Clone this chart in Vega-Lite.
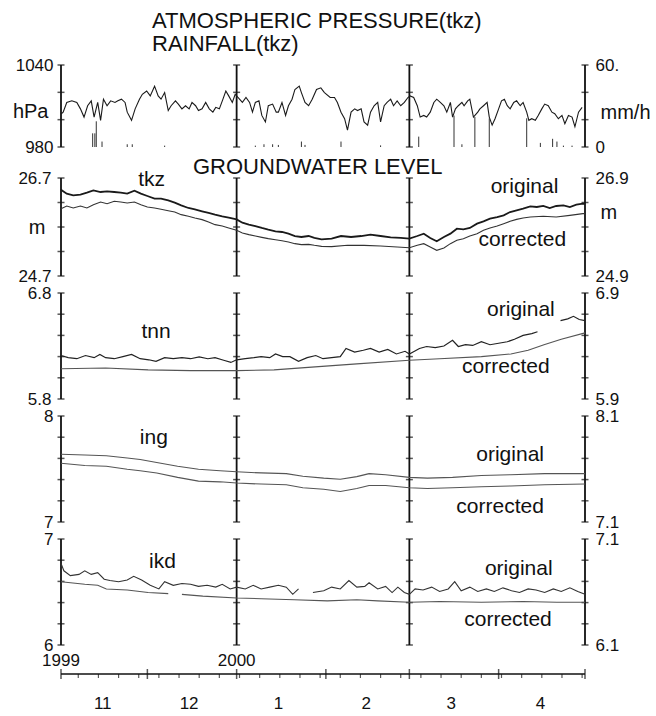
{
"$schema": "https://vega.github.io/schema/vega-lite/v6.json",
"background": "white",
"padding": {"left": 12, "top": 10, "right": 4, "bottom": 0},
"spacing": 0,
"config": {
  "view": {"stroke": null},
  "font": "Liberation Sans",
  "axis": {"labelFont": "Liberation Sans", "labelFontSize": 17, "labelColor": "#111", "grid": false, "labelFlush": false, "labelOverlap": false, "labelBound": false},
  "title": {"font": "Liberation Sans", "fontSize": 22, "fontWeight": "normal", "color": "#111", "anchor": "start", "frame": "group"},
  "text": {"font": "Liberation Sans"}
},
"datasets": {
  "frame": [
    {"site":"pres","date":"1999-11-01T00:00","level":980},{"site":"pres","date":"1999-11-01T00:00","level":1000},{"site":"pres","date":"1999-11-01T00:00","level":1020},{"site":"pres","date":"1999-11-01T00:00","level":1040},
    {"site":"pres","date":"2000-01-01T00:00","level":980},{"site":"pres","date":"2000-01-01T00:00","level":1000},{"site":"pres","date":"2000-01-01T00:00","level":1020},{"site":"pres","date":"2000-01-01T00:00","level":1040},
    {"site":"pres","date":"2000-03-01T00:00","level":980},{"site":"pres","date":"2000-03-01T00:00","level":1000},{"site":"pres","date":"2000-03-01T00:00","level":1020},{"site":"pres","date":"2000-03-01T00:00","level":1040},
    {"site":"pres","date":"2000-05-01T00:00","level":980},{"site":"pres","date":"2000-05-01T00:00","level":1000},{"site":"pres","date":"2000-05-01T00:00","level":1020},{"site":"pres","date":"2000-05-01T00:00","level":1040},
    {"site":"tkz","date":"1999-11-01T00:00","level":24.7},{"site":"tkz","date":"1999-11-01T00:00","level":25.2},{"site":"tkz","date":"1999-11-01T00:00","level":25.7},{"site":"tkz","date":"1999-11-01T00:00","level":26.2},{"site":"tkz","date":"1999-11-01T00:00","level":26.7},
    {"site":"tkz","date":"2000-01-01T00:00","level":24.7},{"site":"tkz","date":"2000-01-01T00:00","level":25.2},{"site":"tkz","date":"2000-01-01T00:00","level":25.7},{"site":"tkz","date":"2000-01-01T00:00","level":26.2},{"site":"tkz","date":"2000-01-01T00:00","level":26.7},
    {"site":"tkz","date":"2000-03-01T00:00","level":24.7},{"site":"tkz","date":"2000-03-01T00:00","level":25.2},{"site":"tkz","date":"2000-03-01T00:00","level":25.7},{"site":"tkz","date":"2000-03-01T00:00","level":26.2},{"site":"tkz","date":"2000-03-01T00:00","level":26.7},
    {"site":"tkz","date":"2000-05-01T00:00","level":24.7},{"site":"tkz","date":"2000-05-01T00:00","level":25.2},{"site":"tkz","date":"2000-05-01T00:00","level":25.7},{"site":"tkz","date":"2000-05-01T00:00","level":26.2},{"site":"tkz","date":"2000-05-01T00:00","level":26.7},
    {"site":"tnn","date":"1999-11-01T00:00","level":5.8},{"site":"tnn","date":"1999-11-01T00:00","level":6.0},{"site":"tnn","date":"1999-11-01T00:00","level":6.2},{"site":"tnn","date":"1999-11-01T00:00","level":6.4},{"site":"tnn","date":"1999-11-01T00:00","level":6.6},{"site":"tnn","date":"1999-11-01T00:00","level":6.8},
    {"site":"tnn","date":"2000-01-01T00:00","level":5.8},{"site":"tnn","date":"2000-01-01T00:00","level":6.0},{"site":"tnn","date":"2000-01-01T00:00","level":6.2},{"site":"tnn","date":"2000-01-01T00:00","level":6.4},{"site":"tnn","date":"2000-01-01T00:00","level":6.6},{"site":"tnn","date":"2000-01-01T00:00","level":6.8},
    {"site":"tnn","date":"2000-03-01T00:00","level":5.8},{"site":"tnn","date":"2000-03-01T00:00","level":6.0},{"site":"tnn","date":"2000-03-01T00:00","level":6.2},{"site":"tnn","date":"2000-03-01T00:00","level":6.4},{"site":"tnn","date":"2000-03-01T00:00","level":6.6},{"site":"tnn","date":"2000-03-01T00:00","level":6.8},
    {"site":"tnn","date":"2000-05-01T00:00","level":5.8},{"site":"tnn","date":"2000-05-01T00:00","level":6.0},{"site":"tnn","date":"2000-05-01T00:00","level":6.2},{"site":"tnn","date":"2000-05-01T00:00","level":6.4},{"site":"tnn","date":"2000-05-01T00:00","level":6.6},{"site":"tnn","date":"2000-05-01T00:00","level":6.8},
    {"site":"ing","date":"1999-11-01T00:00","level":7.0},{"site":"ing","date":"1999-11-01T00:00","level":7.2},{"site":"ing","date":"1999-11-01T00:00","level":7.4},{"site":"ing","date":"1999-11-01T00:00","level":7.6},{"site":"ing","date":"1999-11-01T00:00","level":7.8},{"site":"ing","date":"1999-11-01T00:00","level":8.0},
    {"site":"ing","date":"2000-01-01T00:00","level":7.0},{"site":"ing","date":"2000-01-01T00:00","level":7.2},{"site":"ing","date":"2000-01-01T00:00","level":7.4},{"site":"ing","date":"2000-01-01T00:00","level":7.6},{"site":"ing","date":"2000-01-01T00:00","level":7.8},{"site":"ing","date":"2000-01-01T00:00","level":8.0},
    {"site":"ing","date":"2000-03-01T00:00","level":7.0},{"site":"ing","date":"2000-03-01T00:00","level":7.2},{"site":"ing","date":"2000-03-01T00:00","level":7.4},{"site":"ing","date":"2000-03-01T00:00","level":7.6},{"site":"ing","date":"2000-03-01T00:00","level":7.8},{"site":"ing","date":"2000-03-01T00:00","level":8.0},
    {"site":"ing","date":"2000-05-01T00:00","level":7.0},{"site":"ing","date":"2000-05-01T00:00","level":7.2},{"site":"ing","date":"2000-05-01T00:00","level":7.4},{"site":"ing","date":"2000-05-01T00:00","level":7.6},{"site":"ing","date":"2000-05-01T00:00","level":7.8},{"site":"ing","date":"2000-05-01T00:00","level":8.0},
    {"site":"ikd","date":"1999-11-01T00:00","level":6.0},{"site":"ikd","date":"1999-11-01T00:00","level":6.2},{"site":"ikd","date":"1999-11-01T00:00","level":6.4},{"site":"ikd","date":"1999-11-01T00:00","level":6.6},{"site":"ikd","date":"1999-11-01T00:00","level":6.8},{"site":"ikd","date":"1999-11-01T00:00","level":7.0},
    {"site":"ikd","date":"2000-01-01T00:00","level":6.0},{"site":"ikd","date":"2000-01-01T00:00","level":6.2},{"site":"ikd","date":"2000-01-01T00:00","level":6.4},{"site":"ikd","date":"2000-01-01T00:00","level":6.6},{"site":"ikd","date":"2000-01-01T00:00","level":6.8},{"site":"ikd","date":"2000-01-01T00:00","level":7.0},
    {"site":"ikd","date":"2000-03-01T00:00","level":6.0},{"site":"ikd","date":"2000-03-01T00:00","level":6.2},{"site":"ikd","date":"2000-03-01T00:00","level":6.4},{"site":"ikd","date":"2000-03-01T00:00","level":6.6},{"site":"ikd","date":"2000-03-01T00:00","level":6.8},{"site":"ikd","date":"2000-03-01T00:00","level":7.0},
    {"site":"ikd","date":"2000-05-01T00:00","level":6.0},{"site":"ikd","date":"2000-05-01T00:00","level":6.2},{"site":"ikd","date":"2000-05-01T00:00","level":6.4},{"site":"ikd","date":"2000-05-01T00:00","level":6.6},{"site":"ikd","date":"2000-05-01T00:00","level":6.8},{"site":"ikd","date":"2000-05-01T00:00","level":7.0}
  ],
  "notes": [
    {"site":"tkz","date":"1999-12-02T12:00","level":26.66,"text":"tkz"},
    {"site":"tkz","date":"2000-04-10T00:00","level":26.52,"text":"original"},
    {"site":"tkz","date":"2000-04-09T06:00","level":25.43,"text":"corrected"},
    {"site":"tnn","date":"1999-12-04T00:00","level":6.434,"text":"tnn"},
    {"site":"tnn","date":"2000-04-08T18:00","level":6.643,"text":"original"},
    {"site":"tnn","date":"2000-04-03T12:00","level":6.103,"text":"corrected"},
    {"site":"ing","date":"1999-12-03T06:00","level":7.79,"text":"ing"},
    {"site":"ing","date":"2000-04-05T00:00","level":7.63,"text":"original"},
    {"site":"ing","date":"2000-04-01T12:00","level":7.14,"text":"corrected"},
    {"site":"ikd","date":"1999-12-06T06:00","level":6.785,"text":"ikd"},
    {"site":"ikd","date":"2000-04-08T00:00","level":6.717,"text":"original"},
    {"site":"ikd","date":"2000-04-04T06:00","level":6.24,"text":"corrected"}
  ],
  "weeks": [
    {"date":"1999-11-07T00:00"},{"date":"1999-11-14T00:00"},{"date":"1999-11-21T00:00"},{"date":"1999-11-28T00:00"},
    {"date":"1999-12-05T00:00"},{"date":"1999-12-12T00:00"},{"date":"1999-12-19T00:00"},{"date":"1999-12-26T00:00"},
    {"date":"2000-01-02T00:00"},{"date":"2000-01-09T00:00"},{"date":"2000-01-16T00:00"},{"date":"2000-01-23T00:00"},{"date":"2000-01-30T00:00"},
    {"date":"2000-02-06T00:00"},{"date":"2000-02-13T00:00"},{"date":"2000-02-20T00:00"},{"date":"2000-02-27T00:00"},
    {"date":"2000-03-05T00:00"},{"date":"2000-03-12T00:00"},{"date":"2000-03-19T00:00"},{"date":"2000-03-26T00:00"},
    {"date":"2000-04-02T00:00"},{"date":"2000-04-09T00:00"},{"date":"2000-04-16T00:00"},{"date":"2000-04-23T00:00"},{"date":"2000-04-30T00:00"}
  ],
  "month_starts": [
    {"date":"1999-11-01T00:00"},{"date":"1999-12-01T00:00"},{"date":"2000-01-01T00:00"},{"date":"2000-02-01T00:00"},{"date":"2000-03-01T00:00"},{"date":"2000-04-01T00:00"},{"date":"2000-05-01T00:00"}
  ],
  "month_labels": [
    {"date":"1999-11-15T12:00","month":"11"},{"date":"1999-12-15T12:00","month":"12"},{"date":"2000-01-15T12:00","month":"1"},
    {"date":"2000-02-15T00:00","month":"2"},{"date":"2000-03-15T12:00","month":"3"},{"date":"2000-04-15T12:00","month":"4"}
  ],
  "year_labels": [
    {"date":"1999-11-01T00:00","year":"1999"},{"date":"2000-01-01T00:00","year":"2000"}
  ],
  "pressure": [
    {"date":"1999-11-01T00:00","hPa":1004.0},{"date":"1999-11-01T18:00","hPa":1005.5},{"date":"1999-11-03T00:00","hPa":1012.6},{"date":"1999-11-04T18:00","hPa":1013.8},
    {"date":"1999-11-06T12:00","hPa":1012.6},{"date":"1999-11-07T18:00","hPa":1007.9},{"date":"1999-11-09T00:00","hPa":1001.9},{"date":"1999-11-10T06:00","hPa":1010.2},
    {"date":"1999-11-11T12:00","hPa":1013.8},{"date":"1999-11-12T12:00","hPa":1001.9},{"date":"1999-11-13T18:00","hPa":1012.6},{"date":"1999-11-14T18:00","hPa":999.5},
    {"date":"1999-11-15T18:00","hPa":1015.0},{"date":"1999-11-17T00:00","hPa":1010.2},{"date":"1999-11-18T06:00","hPa":1013.8},{"date":"1999-11-19T18:00","hPa":1012.6},
    {"date":"1999-11-20T18:00","hPa":1013.8},{"date":"1999-11-22T00:00","hPa":1015.0},{"date":"1999-11-23T06:00","hPa":1012.6},{"date":"1999-11-24T00:00","hPa":1005.5},
    {"date":"1999-11-25T12:00","hPa":999.5},{"date":"1999-11-26T18:00","hPa":1007.9},{"date":"1999-11-28T06:00","hPa":1015.0},{"date":"1999-11-29T06:00","hPa":1018.6},
    {"date":"1999-11-30T18:00","hPa":1021.0},{"date":"1999-12-02T00:00","hPa":1017.4},{"date":"1999-12-03T12:00","hPa":1024.5},{"date":"1999-12-04T18:00","hPa":1017.4},
    {"date":"1999-12-05T18:00","hPa":1015.0},{"date":"1999-12-07T00:00","hPa":1019.8},{"date":"1999-12-08T06:00","hPa":1006.7},{"date":"1999-12-09T06:00","hPa":1010.2},
    {"date":"1999-12-10T18:00","hPa":1013.8},{"date":"1999-12-11T18:00","hPa":1011.4},{"date":"1999-12-13T00:00","hPa":1007.9},{"date":"1999-12-14T06:00","hPa":1010.2},
    {"date":"1999-12-15T12:00","hPa":1007.9},{"date":"1999-12-16T12:00","hPa":1012.6},{"date":"1999-12-17T18:00","hPa":1010.2},{"date":"1999-12-18T18:00","hPa":1006.7},
    {"date":"1999-12-20T00:00","hPa":1007.9},{"date":"1999-12-21T06:00","hPa":1012.6},{"date":"1999-12-22T12:00","hPa":1007.9},{"date":"1999-12-23T18:00","hPa":1005.5},
    {"date":"1999-12-24T18:00","hPa":1009.0},{"date":"1999-12-26T00:00","hPa":1007.9},{"date":"1999-12-27T06:00","hPa":1015.0},{"date":"1999-12-28T06:00","hPa":1021.0},
    {"date":"1999-12-29T06:00","hPa":1017.4},{"date":"1999-12-30T12:00","hPa":1012.6},{"date":"1999-12-31T12:00","hPa":1018.6},{"date":"2000-01-02T00:00","hPa":1015.0},
    {"date":"2000-01-03T00:00","hPa":1012.6},{"date":"2000-01-04T06:00","hPa":1016.2},{"date":"2000-01-05T12:00","hPa":1012.6},{"date":"2000-01-06T12:00","hPa":1005.5},
    {"date":"2000-01-07T12:00","hPa":1012.6},{"date":"2000-01-08T18:00","hPa":1013.8},{"date":"2000-01-09T18:00","hPa":1003.1},{"date":"2000-01-11T00:00","hPa":998.3},
    {"date":"2000-01-12T00:00","hPa":1010.2},{"date":"2000-01-13T12:00","hPa":1011.4},{"date":"2000-01-14T18:00","hPa":1005.5},{"date":"2000-01-15T12:00","hPa":1005.5},
    {"date":"2000-01-16T18:00","hPa":1012.6},{"date":"2000-01-18T00:00","hPa":1003.1},{"date":"2000-01-19T00:00","hPa":1010.2},{"date":"2000-01-20T06:00","hPa":1015.0},
    {"date":"2000-01-21T06:00","hPa":1022.1},{"date":"2000-01-22T18:00","hPa":1024.5},{"date":"2000-01-23T12:00","hPa":1019.8},{"date":"2000-01-24T18:00","hPa":1012.6},
    {"date":"2000-01-26T00:00","hPa":1010.2},{"date":"2000-01-27T06:00","hPa":1015.0},{"date":"2000-01-28T18:00","hPa":1022.1},{"date":"2000-01-30T06:00","hPa":1023.3},
    {"date":"2000-01-31T12:00","hPa":1019.8},{"date":"2000-02-02T12:00","hPa":1016.2},{"date":"2000-02-04T00:00","hPa":1016.2},{"date":"2000-02-05T00:00","hPa":1012.6},
    {"date":"2000-02-06T06:00","hPa":1005.5},{"date":"2000-02-07T12:00","hPa":1000.7},{"date":"2000-02-08T12:00","hPa":992.4},{"date":"2000-02-09T18:00","hPa":1005.5},
    {"date":"2000-02-11T00:00","hPa":1007.9},{"date":"2000-02-12T00:00","hPa":1006.7},{"date":"2000-02-13T06:00","hPa":1007.9},{"date":"2000-02-14T06:00","hPa":998.3},
    {"date":"2000-02-15T12:00","hPa":996.0},{"date":"2000-02-16T12:00","hPa":1005.5},{"date":"2000-02-17T18:00","hPa":1010.2},{"date":"2000-02-19T00:00","hPa":1012.6},
    {"date":"2000-02-20T00:00","hPa":998.3},{"date":"2000-02-21T06:00","hPa":1010.2},{"date":"2000-02-22T06:00","hPa":1012.6},{"date":"2000-02-23T12:00","hPa":1015.0},
    {"date":"2000-02-24T12:00","hPa":1010.2},{"date":"2000-02-25T18:00","hPa":1013.8},{"date":"2000-02-27T00:00","hPa":1010.2},{"date":"2000-02-28T06:00","hPa":1012.6},
    {"date":"2000-02-29T12:00","hPa":1016.2},{"date":"2000-03-01T06:00","hPa":1017.4},{"date":"2000-03-02T12:00","hPa":1016.2},{"date":"2000-03-03T18:00","hPa":1010.2},
    {"date":"2000-03-04T18:00","hPa":1001.9},{"date":"2000-03-06T00:00","hPa":1003.1},{"date":"2000-03-07T00:00","hPa":1001.9},{"date":"2000-03-08T06:00","hPa":1005.5},
    {"date":"2000-03-09T12:00","hPa":1012.6},{"date":"2000-03-10T12:00","hPa":1015.0},{"date":"2000-03-11T18:00","hPa":1012.6},{"date":"2000-03-13T00:00","hPa":1010.2},
    {"date":"2000-03-14T00:00","hPa":1005.5},{"date":"2000-03-15T06:00","hPa":1012.6},{"date":"2000-03-16T00:00","hPa":1001.9},{"date":"2000-03-17T00:00","hPa":1007.9},
    {"date":"2000-03-18T00:00","hPa":1010.2},{"date":"2000-03-19T06:00","hPa":1012.6},{"date":"2000-03-20T00:00","hPa":1010.2},{"date":"2000-03-21T06:00","hPa":1013.8},
    {"date":"2000-03-22T00:00","hPa":1015.0},{"date":"2000-03-23T06:00","hPa":1001.9},{"date":"2000-03-24T18:00","hPa":1005.5},{"date":"2000-03-25T12:00","hPa":1007.9},
    {"date":"2000-03-26T18:00","hPa":1010.2},{"date":"2000-03-28T00:00","hPa":1012.6},{"date":"2000-03-28T18:00","hPa":1001.9},{"date":"2000-03-29T18:00","hPa":996.0},
    {"date":"2000-03-30T18:00","hPa":1000.7},{"date":"2000-04-01T00:00","hPa":1007.9},{"date":"2000-04-02T00:00","hPa":1013.8},{"date":"2000-04-03T00:00","hPa":1015.0},
    {"date":"2000-04-04T00:00","hPa":1010.2},{"date":"2000-04-05T00:00","hPa":1007.9},{"date":"2000-04-06T06:00","hPa":1012.6},{"date":"2000-04-07T06:00","hPa":1013.8},
    {"date":"2000-04-08T12:00","hPa":1010.2},{"date":"2000-04-09T12:00","hPa":1012.6},{"date":"2000-04-10T18:00","hPa":1005.5},{"date":"2000-04-11T12:00","hPa":999.5},
    {"date":"2000-04-12T12:00","hPa":1000.7},{"date":"2000-04-13T18:00","hPa":999.5},{"date":"2000-04-14T18:00","hPa":1003.1},{"date":"2000-04-16T00:00","hPa":1007.9},
    {"date":"2000-04-17T00:00","hPa":1011.4},{"date":"2000-04-18T06:00","hPa":1010.2},{"date":"2000-04-19T12:00","hPa":1005.5},{"date":"2000-04-20T12:00","hPa":1004.3},
    {"date":"2000-04-21T18:00","hPa":1000.7},{"date":"2000-04-23T00:00","hPa":1003.1},{"date":"2000-04-24T00:00","hPa":997.1},{"date":"2000-04-25T06:00","hPa":1003.1},
    {"date":"2000-04-26T12:00","hPa":1001.9},{"date":"2000-04-27T12:00","hPa":994.8},{"date":"2000-04-28T18:00","hPa":1005.5},{"date":"2000-04-30T00:00","hPa":1009.0}
  ],
  "rain": [
    {"date":"1999-11-12T00:00","mm":10},{"date":"1999-11-12T18:00","mm":10},{"date":"1999-11-13T06:00","mm":18.8},{"date":"1999-11-15T06:00","mm":4},
    {"date":"1999-11-24T00:00","mm":2},{"date":"1999-11-25T18:00","mm":2},{"date":"1999-12-07T00:00","mm":1},{"date":"2000-01-07T12:00","mm":1},
    {"date":"2000-01-10T12:00","mm":2},{"date":"2000-01-13T12:00","mm":2},{"date":"2000-01-15T12:00","mm":1.5},{"date":"2000-01-23T12:00","mm":4},
    {"date":"2000-01-24T18:00","mm":1.5},{"date":"2000-02-06T06:00","mm":4},{"date":"2000-02-20T00:00","mm":1.2},{"date":"2000-03-04T06:00","mm":7.6},
    {"date":"2000-03-16T12:00","mm":23},{"date":"2000-03-19T06:00","mm":2},{"date":"2000-03-23T18:00","mm":22},{"date":"2000-03-28T18:00","mm":21},
    {"date":"2000-04-10T18:00","mm":21},{"date":"2000-04-15T12:00","mm":3},{"date":"2000-04-19T18:00","mm":6},{"date":"2000-04-21T06:00","mm":4},
    {"date":"2000-04-23T12:00","mm":1},{"date":"2000-04-26T12:00","mm":1}
  ],
  "tkz_original": [
    {"date":"1999-11-01T00:00","level":26.469},{"date":"1999-11-01T06:00","level":26.448},{"date":"1999-11-03T00:00","level":26.38},{"date":"1999-11-05T06:00","level":26.346},
    {"date":"1999-11-07T18:00","level":26.36},{"date":"1999-11-10T00:00","level":26.40},{"date":"1999-11-12T06:00","level":26.448},{"date":"1999-11-14T18:00","level":26.414},
    {"date":"1999-11-17T00:00","level":26.428},{"date":"1999-11-19T12:00","level":26.414},{"date":"1999-11-21T18:00","level":26.40},{"date":"1999-11-24T00:00","level":26.38},
    {"date":"1999-11-26T12:00","level":26.442},{"date":"1999-11-28T18:00","level":26.38},{"date":"1999-12-01T00:00","level":26.333},{"date":"1999-12-03T12:00","level":26.278},
    {"date":"1999-12-05T18:00","level":26.278},{"date":"1999-12-08T06:00","level":26.244},{"date":"1999-12-10T12:00","level":26.197},{"date":"1999-12-12T18:00","level":26.142},
    {"date":"1999-12-15T06:00","level":26.088},{"date":"1999-12-17T12:00","level":26.061},{"date":"1999-12-20T00:00","level":26.02},{"date":"1999-12-22T06:00","level":25.986},
    {"date":"1999-12-24T12:00","level":25.952},{"date":"1999-12-27T00:00","level":25.918},{"date":"1999-12-29T06:00","level":25.891},{"date":"2000-01-01T00:00","level":25.856},
    {"date":"2000-01-03T00:00","level":25.788},{"date":"2000-01-05T06:00","level":25.748},{"date":"2000-01-07T12:00","level":25.72},{"date":"2000-01-09T18:00","level":25.68},
    {"date":"2000-01-12T00:00","level":25.646},{"date":"2000-01-14T12:00","level":25.612},{"date":"2000-01-16T18:00","level":25.598},{"date":"2000-01-19T00:00","level":25.564},
    {"date":"2000-01-21T06:00","level":25.516},{"date":"2000-01-23T12:00","level":25.496},{"date":"2000-01-26T00:00","level":25.516},{"date":"2000-01-28T00:00","level":25.476},
    {"date":"2000-01-30T12:00","level":25.448},{"date":"2000-02-03T00:00","level":25.462},{"date":"2000-02-06T06:00","level":25.516},{"date":"2000-02-09T18:00","level":25.496},
    {"date":"2000-02-13T06:00","level":25.516},{"date":"2000-02-16T12:00","level":25.544},{"date":"2000-02-20T00:00","level":25.516},{"date":"2000-02-23T12:00","level":25.489},
    {"date":"2000-02-27T00:00","level":25.476},{"date":"2000-03-01T00:00","level":25.462},{"date":"2000-03-03T18:00","level":25.516},{"date":"2000-03-06T00:00","level":25.564},
    {"date":"2000-03-08T06:00","level":25.476},{"date":"2000-03-10T12:00","level":25.408},{"date":"2000-03-13T00:00","level":25.496},{"date":"2000-03-15T06:00","level":25.564},
    {"date":"2000-03-17T12:00","level":25.666},{"date":"2000-03-19T18:00","level":25.652},{"date":"2000-03-22T00:00","level":25.68},{"date":"2000-03-24T12:00","level":25.768},
    {"date":"2000-03-26T18:00","level":25.816},{"date":"2000-03-29T00:00","level":25.87},{"date":"2000-03-31T12:00","level":25.904},{"date":"2000-04-02T18:00","level":25.938},
    {"date":"2000-04-05T00:00","level":26.006},{"date":"2000-04-07T06:00","level":26.04},{"date":"2000-04-09T12:00","level":26.074},{"date":"2000-04-12T00:00","level":26.122},
    {"date":"2000-04-14T06:00","level":26.108},{"date":"2000-04-16T12:00","level":26.129},{"date":"2000-04-18T18:00","level":26.088},{"date":"2000-04-21T00:00","level":26.129},
    {"date":"2000-04-23T12:00","level":26.142},{"date":"2000-04-25T18:00","level":26.108},{"date":"2000-04-28T00:00","level":26.156},{"date":"2000-04-30T06:00","level":26.176},
    {"date":"2000-05-01T00:00","level":26.17}
  ],
  "tkz_corrected": [
    {"date":"1999-11-01T00:00","level":26.274},{"date":"1999-11-03T00:00","level":26.329},{"date":"1999-11-05T06:00","level":26.288},{"date":"1999-11-07T18:00","level":26.329},
    {"date":"1999-11-10T00:00","level":26.288},{"date":"1999-11-12T06:00","level":26.356},{"date":"1999-11-14T18:00","level":26.41},{"date":"1999-11-17T00:00","level":26.376},
    {"date":"1999-11-19T12:00","level":26.424},{"date":"1999-11-21T18:00","level":26.41},{"date":"1999-11-24T00:00","level":26.39},{"date":"1999-11-26T12:00","level":26.41},
    {"date":"1999-11-28T18:00","level":26.356},{"date":"1999-12-01T00:00","level":26.308},{"date":"1999-12-03T12:00","level":26.288},{"date":"1999-12-05T18:00","level":26.261},
    {"date":"1999-12-08T06:00","level":26.233},{"date":"1999-12-10T12:00","level":26.206},{"date":"1999-12-12T18:00","level":26.152},{"date":"1999-12-15T06:00","level":26.118},
    {"date":"1999-12-17T12:00","level":26.084},{"date":"1999-12-20T00:00","level":26.05},{"date":"1999-12-22T06:00","level":26.002},{"date":"1999-12-24T12:00","level":25.948},
    {"date":"1999-12-27T00:00","level":25.92},{"date":"1999-12-29T06:00","level":25.88},{"date":"2000-01-01T00:00","level":25.832},{"date":"2000-01-03T00:00","level":25.778},
    {"date":"2000-01-05T06:00","level":25.744},{"date":"2000-01-07T12:00","level":25.716},{"date":"2000-01-09T18:00","level":25.689},{"date":"2000-01-12T00:00","level":25.662},
    {"date":"2000-01-14T12:00","level":25.641},{"date":"2000-01-16T18:00","level":25.621},{"date":"2000-01-19T00:00","level":25.594},{"date":"2000-01-21T06:00","level":25.56},
    {"date":"2000-01-23T12:00","level":25.54},{"date":"2000-01-26T00:00","level":25.546},{"date":"2000-01-28T00:00","level":25.526},{"date":"2000-01-30T12:00","level":25.505},
    {"date":"2000-02-03T00:00","level":25.499},{"date":"2000-02-08T12:00","level":25.526},{"date":"2000-02-14T06:00","level":25.526},{"date":"2000-02-20T00:00","level":25.512},
    {"date":"2000-02-25T18:00","level":25.492},{"date":"2000-03-01T00:00","level":25.478},{"date":"2000-03-03T18:00","level":25.526},{"date":"2000-03-06T00:00","level":25.56},
    {"date":"2000-03-08T06:00","level":25.492},{"date":"2000-03-10T12:00","level":25.424},{"date":"2000-03-13T00:00","level":25.471},{"date":"2000-03-15T06:00","level":25.56},
    {"date":"2000-03-17T12:00","level":25.628},{"date":"2000-03-19T18:00","level":25.662},{"date":"2000-03-22T00:00","level":25.716},{"date":"2000-03-24T12:00","level":25.764},
    {"date":"2000-03-26T18:00","level":25.832},{"date":"2000-03-29T00:00","level":25.88},{"date":"2000-03-31T12:00","level":25.92},{"date":"2000-04-02T18:00","level":25.968},
    {"date":"2000-04-05T00:00","level":26.016},{"date":"2000-04-07T06:00","level":26.056},{"date":"2000-04-09T12:00","level":26.084},{"date":"2000-04-12T00:00","level":26.104},
    {"date":"2000-04-16T12:00","level":26.118},{"date":"2000-04-21T00:00","level":26.104},{"date":"2000-04-25T18:00","level":26.138},{"date":"2000-04-30T06:00","level":26.172},
    {"date":"2000-05-01T00:00","level":26.172}
  ],
  "tnn_original": [
    {"run":1,"date":"1999-11-01T00:00","level":6.21},{"run":1,"date":"1999-11-03T12:00","level":6.19},{"run":1,"date":"1999-11-06T12:00","level":6.18},{"run":1,"date":"1999-11-09T12:00","level":6.21},
    {"run":1,"date":"1999-11-12T12:00","level":6.19},{"run":1,"date":"1999-11-14T12:00","level":6.22},{"run":1,"date":"1999-11-16T12:00","level":6.19},{"run":1,"date":"1999-11-19T12:00","level":6.18},
    {"run":1,"date":"1999-11-22T12:00","level":6.20},{"run":1,"date":"1999-11-25T12:00","level":6.22},{"run":1,"date":"1999-11-28T12:00","level":6.18},{"run":1,"date":"1999-12-01T12:00","level":6.17},
    {"run":1,"date":"1999-12-04T00:00","level":6.155},{"run":1,"date":"1999-12-07T00:00","level":6.19},{"run":1,"date":"1999-12-10T00:00","level":6.18},{"run":1,"date":"1999-12-13T00:00","level":6.19},
    {"run":1,"date":"1999-12-16T00:00","level":6.18},{"run":1,"date":"1999-12-19T00:00","level":6.197},{"run":1,"date":"1999-12-22T00:00","level":6.18},{"run":1,"date":"1999-12-24T12:00","level":6.19},
    {"run":1,"date":"1999-12-27T12:00","level":6.166},{"run":1,"date":"1999-12-30T00:00","level":6.145},{"run":1,"date":"2000-01-01T00:00","level":6.17},{"run":1,"date":"2000-01-04T00:00","level":6.18},
    {"run":1,"date":"2000-01-07T00:00","level":6.19},{"run":1,"date":"2000-01-09T12:00","level":6.20},{"run":1,"date":"2000-01-12T12:00","level":6.19},{"run":1,"date":"2000-01-14T12:00","level":6.225},
    {"run":1,"date":"2000-01-17T00:00","level":6.20},{"run":1,"date":"2000-01-19T12:00","level":6.20},{"run":1,"date":"2000-01-22T12:00","level":6.155},{"run":1,"date":"2000-01-25T12:00","level":6.19},
    {"run":1,"date":"2000-01-28T12:00","level":6.21},{"run":1,"date":"2000-01-31T00:00","level":6.18},{"run":1,"date":"2000-02-03T00:00","level":6.19},{"run":1,"date":"2000-02-06T00:00","level":6.20},
    {"run":1,"date":"2000-02-08T00:00","level":6.277},{"run":1,"date":"2000-02-11T00:00","level":6.243},{"run":1,"date":"2000-02-14T00:00","level":6.26},{"run":1,"date":"2000-02-16T12:00","level":6.277},
    {"run":1,"date":"2000-02-19T12:00","level":6.243},{"run":1,"date":"2000-02-22T12:00","level":6.267},{"run":1,"date":"2000-02-25T12:00","level":6.225},{"run":1,"date":"2000-02-28T12:00","level":6.25},
    {"run":1,"date":"2000-03-01T00:00","level":6.225},{"run":1,"date":"2000-03-04T12:00","level":6.277},{"run":1,"date":"2000-03-07T00:00","level":6.295},{"run":1,"date":"2000-03-10T00:00","level":6.284},
    {"run":1,"date":"2000-03-13T00:00","level":6.30},{"run":1,"date":"2000-03-16T00:00","level":6.354},{"run":1,"date":"2000-03-18T00:00","level":6.295},{"run":1,"date":"2000-03-20T12:00","level":6.312},
    {"run":1,"date":"2000-03-23T00:00","level":6.305},{"run":1,"date":"2000-03-26T00:00","level":6.34},{"run":1,"date":"2000-03-29T00:00","level":6.312},{"run":1,"date":"2000-04-01T00:00","level":6.326},
    {"run":1,"date":"2000-04-04T00:00","level":6.34},{"run":1,"date":"2000-04-06T12:00","level":6.364},{"run":1,"date":"2000-04-09T12:00","level":6.40},{"run":1,"date":"2000-04-12T12:00","level":6.417},
    {"run":1,"date":"2000-04-14T12:00","level":6.434},
    {"run":2,"date":"2000-04-22T12:00","level":6.539},{"run":2,"date":"2000-04-25T00:00","level":6.556},{"run":2,"date":"2000-04-27T00:00","level":6.58},{"run":2,"date":"2000-04-29T00:00","level":6.55},
    {"run":2,"date":"2000-05-01T00:00","level":6.539}
  ],
  "tnn_corrected": [
    {"date":"1999-11-01T00:00","level":6.186},{"date":"1999-11-16T12:00","level":6.193},{"date":"1999-12-01T06:00","level":6.175},{"date":"1999-12-16T00:00","level":6.168},
    {"date":"2000-01-01T00:00","level":6.168},{"date":"2000-01-14T00:00","level":6.175},{"date":"2000-01-28T06:00","level":6.203},{"date":"2000-02-11T18:00","level":6.231},
    {"date":"2000-03-01T00:00","level":6.266},{"date":"2000-03-11T12:00","level":6.28},{"date":"2000-03-26T00:00","level":6.30},{"date":"2000-04-05T06:00","level":6.325},
    {"date":"2000-04-11T06:00","level":6.36},{"date":"2000-04-16T18:00","level":6.412},{"date":"2000-04-22T18:00","level":6.464},{"date":"2000-05-01T00:00","level":6.524}
  ],
  "ing_original": [
    {"date":"1999-11-01T00:00","level":7.639},{"date":"1999-11-09T06:00","level":7.632},{"date":"1999-11-16T18:00","level":7.625},{"date":"1999-11-24T00:00","level":7.604},
    {"date":"1999-11-28T12:00","level":7.59},{"date":"1999-12-04T06:00","level":7.561},{"date":"1999-12-11T12:00","level":7.526},{"date":"1999-12-18T18:00","level":7.498},
    {"date":"1999-12-26T06:00","level":7.484},{"date":"2000-01-01T00:00","level":7.474},{"date":"2000-01-09T12:00","level":7.463},{"date":"2000-01-18T06:00","level":7.456},
    {"date":"2000-01-24T00:00","level":7.432},{"date":"2000-01-31T06:00","level":7.414},{"date":"2000-02-06T00:00","level":7.404},{"date":"2000-02-11T18:00","level":7.428},
    {"date":"2000-02-16T00:00","level":7.456},{"date":"2000-02-21T18:00","level":7.446},{"date":"2000-03-01T00:00","level":7.421},{"date":"2000-03-07T06:00","level":7.414},
    {"date":"2000-03-16T00:00","level":7.421},{"date":"2000-03-26T00:00","level":7.439},{"date":"2000-04-05T06:00","level":7.446},{"date":"2000-04-17T00:00","level":7.456},
    {"date":"2000-05-01T00:00","level":7.456}
  ],
  "ing_corrected": [
    {"date":"1999-11-01T00:00","level":7.654},{"date":"1999-11-09T06:00","level":7.633},{"date":"1999-11-16T18:00","level":7.626},{"date":"1999-11-24T00:00","level":7.598},
    {"date":"1999-11-28T12:00","level":7.584},{"date":"1999-12-04T06:00","level":7.563},{"date":"1999-12-11T12:00","level":7.521},{"date":"1999-12-18T18:00","level":7.486},
    {"date":"1999-12-26T06:00","level":7.479},{"date":"2000-01-01T00:00","level":7.468},{"date":"2000-01-09T12:00","level":7.458},{"date":"2000-01-18T06:00","level":7.451},
    {"date":"2000-01-24T00:00","level":7.423},{"date":"2000-01-31T06:00","level":7.409},{"date":"2000-02-06T00:00","level":7.388},{"date":"2000-02-11T18:00","level":7.416},
    {"date":"2000-02-16T00:00","level":7.444},{"date":"2000-02-21T18:00","level":7.444},{"date":"2000-03-01T00:00","level":7.423},{"date":"2000-03-07T06:00","level":7.416},
    {"date":"2000-03-16T00:00","level":7.423},{"date":"2000-03-26T00:00","level":7.433},{"date":"2000-04-05T06:00","level":7.44},{"date":"2000-04-17T00:00","level":7.451},
    {"date":"2000-05-01T00:00","level":7.458}
  ],
  "ikd_original": [
    {"run":1,"date":"1999-11-01T00:00","level":6.77},{"run":1,"date":"1999-11-02T00:00","level":6.70},{"run":1,"date":"1999-11-04T06:00","level":6.655},{"run":1,"date":"1999-11-07T06:00","level":6.666},
    {"run":1,"date":"1999-11-09T06:00","level":6.70},{"run":1,"date":"1999-11-11T12:00","level":6.666},{"run":1,"date":"1999-11-13T18:00","level":6.683},{"run":1,"date":"1999-11-16T00:00","level":6.621},
    {"run":1,"date":"1999-11-18T00:00","level":6.608},{"run":1,"date":"1999-11-21T00:00","level":6.597},{"run":1,"date":"1999-11-24T00:00","level":6.614},{"run":1,"date":"1999-11-26T06:00","level":6.648},
    {"run":1,"date":"1999-11-29T00:00","level":6.614},{"run":1,"date":"1999-12-02T00:00","level":6.563},{"run":1,"date":"1999-12-05T00:00","level":6.529},{"run":1,"date":"1999-12-07T00:00","level":6.597},
    {"run":1,"date":"1999-12-10T00:00","level":6.563},{"run":1,"date":"1999-12-13T00:00","level":6.58},{"run":1,"date":"1999-12-16T00:00","level":6.573},{"run":1,"date":"1999-12-18T18:00","level":6.553},
    {"run":1,"date":"1999-12-21T18:00","level":6.563},{"run":1,"date":"1999-12-24T18:00","level":6.546},{"run":1,"date":"1999-12-27T00:00","level":6.573},{"run":1,"date":"1999-12-29T18:00","level":6.529},
    {"run":1,"date":"2000-01-01T00:00","level":6.546},{"run":1,"date":"2000-01-04T00:00","level":6.529},{"run":1,"date":"2000-01-06T18:00","level":6.563},{"run":1,"date":"2000-01-09T12:00","level":6.529},
    {"run":1,"date":"2000-01-12T12:00","level":6.546},{"run":1,"date":"2000-01-15T12:00","level":6.563},{"run":1,"date":"2000-01-18T06:00","level":6.546},{"run":1,"date":"2000-01-20T12:00","level":6.478},
    {"run":1,"date":"2000-01-22T12:00","level":6.529},
    {"run":2,"date":"2000-01-27T12:00","level":6.495},{"run":2,"date":"2000-01-31T06:00","level":6.512},{"run":2,"date":"2000-02-03T00:00","level":6.546},{"run":2,"date":"2000-02-06T00:00","level":6.529},
    {"run":2,"date":"2000-02-09T00:00","level":6.608},{"run":2,"date":"2000-02-11T18:00","level":6.546},{"run":2,"date":"2000-02-14T12:00","level":6.553},{"run":2,"date":"2000-02-16T00:00","level":6.587},
    {"run":2,"date":"2000-02-19T00:00","level":6.529},{"run":2,"date":"2000-02-21T18:00","level":6.553},{"run":2,"date":"2000-02-24T00:00","level":6.495},{"run":2,"date":"2000-02-26T00:00","level":6.546},
    {"run":2,"date":"2000-02-28T06:00","level":6.495},{"run":2,"date":"2000-03-01T00:00","level":6.478},{"run":2,"date":"2000-03-03T00:00","level":6.529},{"run":2,"date":"2000-03-05T18:00","level":6.519},
    {"run":2,"date":"2000-03-08T18:00","level":6.546},{"run":2,"date":"2000-03-11T12:00","level":6.505},{"run":2,"date":"2000-03-14T12:00","level":6.529},{"run":2,"date":"2000-03-16T18:00","level":6.597},
    {"run":2,"date":"2000-03-19T00:00","level":6.512},{"run":2,"date":"2000-03-22T00:00","level":6.546},{"run":2,"date":"2000-03-24T18:00","level":6.505},{"run":2,"date":"2000-03-27T18:00","level":6.529},
    {"run":2,"date":"2000-03-30T12:00","level":6.505},{"run":2,"date":"2000-04-02T12:00","level":6.539},{"run":2,"date":"2000-04-05T12:00","level":6.512},{"run":2,"date":"2000-04-08T06:00","level":6.495},
    {"run":2,"date":"2000-04-11T06:00","level":6.529},{"run":2,"date":"2000-04-14T00:00","level":6.519},{"run":2,"date":"2000-04-17T00:00","level":6.495},{"run":2,"date":"2000-04-20T00:00","level":6.529},
    {"run":2,"date":"2000-04-22T18:00","level":6.505},{"run":2,"date":"2000-04-25T18:00","level":6.539},{"run":2,"date":"2000-04-28T12:00","level":6.505},{"run":2,"date":"2000-05-01T00:00","level":6.478}
  ],
  "ikd_corrected": [
    {"run":1,"date":"1999-11-01T00:00","level":6.697},{"run":1,"date":"1999-11-09T06:00","level":6.673},{"run":1,"date":"1999-11-13T18:00","level":6.663},{"run":1,"date":"1999-11-16T18:00","level":6.629},
    {"run":1,"date":"1999-11-24T00:00","level":6.619},{"run":1,"date":"1999-12-01T06:00","level":6.595},{"run":1,"date":"1999-12-08T06:00","level":6.585},
    {"run":2,"date":"1999-12-13T00:00","level":6.578},{"run":2,"date":"1999-12-20T06:00","level":6.561},{"run":2,"date":"2000-01-01T00:00","level":6.544},{"run":2,"date":"2000-01-09T12:00","level":6.537},
    {"run":2,"date":"2000-01-21T00:00","level":6.527},{"run":2,"date":"2000-02-01T12:00","level":6.516},{"run":2,"date":"2000-02-11T18:00","level":6.527},{"run":2,"date":"2000-02-19T00:00","level":6.516},
    {"run":2,"date":"2000-03-01T00:00","level":6.503},{"run":2,"date":"2000-03-11T12:00","level":6.51},{"run":2,"date":"2000-03-26T00:00","level":6.503},{"run":2,"date":"2000-04-09T12:00","level":6.51},
    {"run":2,"date":"2000-04-21T06:00","level":6.503},{"run":2,"date":"2000-05-01T00:00","level":6.503}
  ]
},
"vconcat": [
  {
    "width": 524, "height": 82,
    "title": {"text": ["ATMOSPHERIC PRESSURE(tkz)", "RAINFALL(tkz)"], "dx": 91, "lineHeight": 23, "offset": 0},
    "layer": [
      {"data": {"name": "frame"}, "transform": [{"filter": "datum.site == 'pres'"}],
       "mark": {"type": "rule", "color": "#111", "strokeWidth": 1.8},
       "encoding": {
         "x": {"field": "date", "type": "temporal", "scale": {"domain": [{"year": 1999, "month": 11, "date": 1}, {"year": 2000, "month": 5, "date": 1}]}, "axis": null},
         "y": {"aggregate": "min", "field": "level", "type": "quantitative", "scale": {"domain": [980, 1040], "nice": false, "zero": false}, "axis": null},
         "y2": {"aggregate": "max", "field": "level"}}},
      {"data": {"name": "frame"}, "transform": [{"filter": "datum.site == 'pres'"}],
       "mark": {"type": "tick", "orient": "horizontal", "color": "#111", "size": 7, "thickness": 1.5},
       "encoding": {
         "x": {"field": "date", "type": "temporal", "scale": {"domain": [{"year": 1999, "month": 11, "date": 1}, {"year": 2000, "month": 5, "date": 1}]}, "axis": null},
         "y": {"field": "level", "type": "quantitative", "scale": {"domain": [980, 1040], "nice": false, "zero": false}, "axis": null}}},
      {"data": {"name": "pressure"},
       "mark": {"type": "line", "color": "#1a1a1a", "strokeWidth": 1.1},
       "encoding": {
         "x": {"field": "date", "type": "temporal", "scale": {"domain": [{"year": 1999, "month": 11, "date": 1}, {"year": 2000, "month": 5, "date": 1}]},
               "axis": {"orient": "bottom", "domain": true, "domainColor": "#222", "domainWidth": 1.3, "ticks": false, "labels": false, "title": null}},
         "y": {"field": "hPa", "type": "quantitative", "scale": {"domain": [980, 1040], "nice": false, "zero": false},
               "axis": {"orient": "left", "values": [980, 1006, 1040], "labelExpr": "datum.value == 1006 ? 'hPa' : format(datum.value, 'd')",
                        "domain": false, "ticks": false, "title": null,
                        "labelFontSize": {"condition": {"test": "datum.value == 1006", "value": 20}, "value": 17},
                        "labelPadding": {"condition": {"test": "datum.value == 1006", "value": 13}, "value": 8}}}}},
      {"data": {"name": "rain"},
       "mark": {"type": "rule", "color": "#333", "strokeWidth": 1},
       "encoding": {
         "x": {"field": "date", "type": "temporal", "scale": {"domain": [{"year": 1999, "month": 11, "date": 1}, {"year": 2000, "month": 5, "date": 1}]}, "axis": null},
         "y": {"field": "mm", "type": "quantitative", "scale": {"domain": [0, 60], "nice": false},
               "axis": {"orient": "right", "values": [0, 25, 60], "labelExpr": "datum.value == 25 ? 'mm/h' : datum.value == 60 ? '60.' : '0'",
                        "domain": false, "ticks": false, "title": null,
                        "labelFontSize": {"condition": {"test": "datum.value == 25", "value": 20}, "value": 17},
                        "labelPadding": {"condition": {"test": "datum.value == 25", "value": 15}, "value": 10}}},
         "y2": {"datum": 0}}}
    ],
    "resolve": {"scale": {"y": "independent"}}
  },
  {
    "width": 524, "height": 98,
    "title": {"text": "GROUNDWATER LEVEL", "dx": 132, "offset": -10},
    "layer": [
      {"data": {"name": "frame"}, "transform": [{"filter": "datum.site == 'tkz'"}],
       "mark": {"type": "rule", "color": "#111", "strokeWidth": 1.8},
       "encoding": {
         "x": {"field": "date", "type": "temporal", "scale": {"domain": [{"year": 1999, "month": 11, "date": 1}, {"year": 2000, "month": 5, "date": 1}]}, "axis": null},
         "y": {"aggregate": "min", "field": "level", "type": "quantitative", "scale": {"domain": [24.7, 26.7], "nice": false, "zero": false}, "axis": null},
         "y2": {"aggregate": "max", "field": "level"}}},
      {"data": {"name": "frame"}, "transform": [{"filter": "datum.site == 'tkz'"}],
       "mark": {"type": "tick", "orient": "horizontal", "color": "#111", "size": 7, "thickness": 1.5},
       "encoding": {
         "x": {"field": "date", "type": "temporal", "scale": {"domain": [{"year": 1999, "month": 11, "date": 1}, {"year": 2000, "month": 5, "date": 1}]}, "axis": null},
         "y": {"field": "level", "type": "quantitative", "scale": {"domain": [24.7, 26.7], "nice": false, "zero": false}, "axis": null}}},
      {"data": {"name": "tkz_original"},
       "mark": {"type": "line", "color": "#1a1a1a", "strokeWidth": 1.8},
       "encoding": {
         "x": {"field": "date", "type": "temporal", "scale": {"domain": [{"year": 1999, "month": 11, "date": 1}, {"year": 2000, "month": 5, "date": 1}]}, "axis": null},
         "y": {"field": "level", "type": "quantitative", "scale": {"domain": [24.7, 26.7], "nice": false, "zero": false},
               "axis": {"orient": "left", "values": [24.7, 25.7, 26.7], "labelExpr": "datum.value == 25.7 ? 'm' : format(datum.value, '.1f')",
                        "domain": false, "ticks": false, "title": null,
                        "labelFontSize": {"condition": {"test": "datum.value == 25.7", "value": 20}, "value": 17},
                        "labelPadding": {"condition": {"test": "datum.value == 25.7", "value": 16}, "value": 10}}}}},
      {"data": {"name": "notes"}, "transform": [{"filter": "datum.site == 'tkz'"}],
       "mark": {"type": "text", "fontSize": 21, "color": "#111"},
       "encoding": {
         "x": {"field": "date", "type": "temporal", "scale": {"domain": [{"year": 1999, "month": 11, "date": 1}, {"year": 2000, "month": 5, "date": 1}]}, "axis": null},
         "y": {"field": "level", "type": "quantitative", "scale": {"domain": [24.7, 26.7], "nice": false, "zero": false}, "axis": null},
         "text": {"field": "text"}}},
      {"data": {"name": "tkz_corrected"},
       "mark": {"type": "line", "color": "#333", "strokeWidth": 1.1},
       "encoding": {
         "x": {"field": "date", "type": "temporal", "scale": {"domain": [{"year": 1999, "month": 11, "date": 1}, {"year": 2000, "month": 5, "date": 1}]}, "axis": null},
         "y": {"field": "level", "type": "quantitative", "scale": {"domain": [24.9, 26.9], "nice": false, "zero": false},
               "axis": {"orient": "right", "values": [24.9, 26.2, 26.9], "labelExpr": "datum.value == 26.2 ? 'm' : format(datum.value, '.1f')",
                        "domain": false, "ticks": false, "title": null,
                        "labelFontSize": {"condition": {"test": "datum.value == 26.2", "value": 20}, "value": 17},
                        "labelPadding": {"condition": {"test": "datum.value == 26.2", "value": 15}, "value": 10}}}}}
    ],
    "resolve": {"scale": {"y": "independent"}}
  },
  {
    "width": 524, "height": 106,
    "layer": [
      {"data": {"name": "frame"}, "transform": [{"filter": "datum.site == 'tnn'"}],
       "mark": {"type": "rule", "color": "#111", "strokeWidth": 1.8},
       "encoding": {
         "x": {"field": "date", "type": "temporal", "scale": {"domain": [{"year": 1999, "month": 11, "date": 1}, {"year": 2000, "month": 5, "date": 1}]}, "axis": null},
         "y": {"aggregate": "min", "field": "level", "type": "quantitative", "scale": {"domain": [5.8, 6.8], "nice": false, "zero": false}, "axis": null},
         "y2": {"aggregate": "max", "field": "level"}}},
      {"data": {"name": "frame"}, "transform": [{"filter": "datum.site == 'tnn'"}],
       "mark": {"type": "tick", "orient": "horizontal", "color": "#111", "size": 7, "thickness": 1.5},
       "encoding": {
         "x": {"field": "date", "type": "temporal", "scale": {"domain": [{"year": 1999, "month": 11, "date": 1}, {"year": 2000, "month": 5, "date": 1}]}, "axis": null},
         "y": {"field": "level", "type": "quantitative", "scale": {"domain": [5.8, 6.8], "nice": false, "zero": false}, "axis": null}}},
      {"data": {"name": "tnn_original"},
       "mark": {"type": "line", "color": "#222", "strokeWidth": 1.2},
       "encoding": {
         "x": {"field": "date", "type": "temporal", "scale": {"domain": [{"year": 1999, "month": 11, "date": 1}, {"year": 2000, "month": 5, "date": 1}]}, "axis": null},
         "y": {"field": "level", "type": "quantitative", "scale": {"domain": [5.8, 6.8], "nice": false, "zero": false},
               "axis": {"orient": "left", "values": [5.8, 6.8], "format": ".1f", "domain": false, "ticks": false, "title": null, "labelPadding": 10}},
         "detail": {"field": "run"}}},
      {"data": {"name": "notes"}, "transform": [{"filter": "datum.site == 'tnn'"}],
       "mark": {"type": "text", "fontSize": 21, "color": "#111"},
       "encoding": {
         "x": {"field": "date", "type": "temporal", "scale": {"domain": [{"year": 1999, "month": 11, "date": 1}, {"year": 2000, "month": 5, "date": 1}]}, "axis": null},
         "y": {"field": "level", "type": "quantitative", "scale": {"domain": [5.8, 6.8], "nice": false, "zero": false}, "axis": null},
         "text": {"field": "text"}}},
      {"data": {"name": "tnn_corrected"},
       "mark": {"type": "line", "color": "#555", "strokeWidth": 1.1},
       "encoding": {
         "x": {"field": "date", "type": "temporal", "scale": {"domain": [{"year": 1999, "month": 11, "date": 1}, {"year": 2000, "month": 5, "date": 1}]}, "axis": null},
         "y": {"field": "level", "type": "quantitative", "scale": {"domain": [5.9, 6.9], "nice": false, "zero": false},
               "axis": {"orient": "right", "values": [5.9, 6.9], "format": ".1f", "domain": false, "ticks": false, "title": null, "labelPadding": 10}}}}
    ],
    "resolve": {"scale": {"y": "independent"}}
  },
  {
    "width": 524, "height": 106,
    "layer": [
      {"data": {"name": "frame"}, "transform": [{"filter": "datum.site == 'ing'"}],
       "mark": {"type": "rule", "color": "#111", "strokeWidth": 1.8},
       "encoding": {
         "x": {"field": "date", "type": "temporal", "scale": {"domain": [{"year": 1999, "month": 11, "date": 1}, {"year": 2000, "month": 5, "date": 1}]}, "axis": null},
         "y": {"aggregate": "min", "field": "level", "type": "quantitative", "scale": {"domain": [7, 8], "nice": false, "zero": false}, "axis": null},
         "y2": {"aggregate": "max", "field": "level"}}},
      {"data": {"name": "frame"}, "transform": [{"filter": "datum.site == 'ing'"}],
       "mark": {"type": "tick", "orient": "horizontal", "color": "#111", "size": 7, "thickness": 1.5},
       "encoding": {
         "x": {"field": "date", "type": "temporal", "scale": {"domain": [{"year": 1999, "month": 11, "date": 1}, {"year": 2000, "month": 5, "date": 1}]}, "axis": null},
         "y": {"field": "level", "type": "quantitative", "scale": {"domain": [7, 8], "nice": false, "zero": false}, "axis": null}}},
      {"data": {"name": "ing_original"},
       "mark": {"type": "line", "color": "#555", "strokeWidth": 1.1},
       "encoding": {
         "x": {"field": "date", "type": "temporal", "scale": {"domain": [{"year": 1999, "month": 11, "date": 1}, {"year": 2000, "month": 5, "date": 1}]}, "axis": null},
         "y": {"field": "level", "type": "quantitative", "scale": {"domain": [7, 8], "nice": false, "zero": false},
               "axis": {"orient": "left", "values": [7, 8], "format": "d", "domain": false, "ticks": false, "title": null, "labelPadding": 8}}}},
      {"data": {"name": "notes"}, "transform": [{"filter": "datum.site == 'ing'"}],
       "mark": {"type": "text", "fontSize": 21, "color": "#111"},
       "encoding": {
         "x": {"field": "date", "type": "temporal", "scale": {"domain": [{"year": 1999, "month": 11, "date": 1}, {"year": 2000, "month": 5, "date": 1}]}, "axis": null},
         "y": {"field": "level", "type": "quantitative", "scale": {"domain": [7, 8], "nice": false, "zero": false}, "axis": null},
         "text": {"field": "text"}}},
      {"data": {"name": "ing_corrected"},
       "mark": {"type": "line", "color": "#555", "strokeWidth": 1.1},
       "encoding": {
         "x": {"field": "date", "type": "temporal", "scale": {"domain": [{"year": 1999, "month": 11, "date": 1}, {"year": 2000, "month": 5, "date": 1}]}, "axis": null},
         "y": {"field": "level", "type": "quantitative", "scale": {"domain": [7.1, 8.1], "nice": false, "zero": false},
               "axis": {"orient": "right", "values": [7.1, 8.1], "format": ".1f", "domain": false, "ticks": false, "title": null, "labelPadding": 10}}}}
    ],
    "resolve": {"scale": {"y": "independent"}}
  },
  {
    "width": 524, "height": 106,
    "layer": [
      {"data": {"name": "frame"}, "transform": [{"filter": "datum.site == 'ikd'"}],
       "mark": {"type": "rule", "color": "#111", "strokeWidth": 1.8},
       "encoding": {
         "x": {"field": "date", "type": "temporal", "scale": {"domain": [{"year": 1999, "month": 11, "date": 1}, {"year": 2000, "month": 5, "date": 1}]}, "axis": null},
         "y": {"aggregate": "min", "field": "level", "type": "quantitative", "scale": {"domain": [6, 7], "nice": false, "zero": false}, "axis": null},
         "y2": {"aggregate": "max", "field": "level"}}},
      {"data": {"name": "frame"}, "transform": [{"filter": "datum.site == 'ikd'"}],
       "mark": {"type": "tick", "orient": "horizontal", "color": "#111", "size": 7, "thickness": 1.5},
       "encoding": {
         "x": {"field": "date", "type": "temporal", "scale": {"domain": [{"year": 1999, "month": 11, "date": 1}, {"year": 2000, "month": 5, "date": 1}]}, "axis": null},
         "y": {"field": "level", "type": "quantitative", "scale": {"domain": [6, 7], "nice": false, "zero": false}, "axis": null}}},
      {"data": {"name": "ikd_original"},
       "mark": {"type": "line", "color": "#333", "strokeWidth": 1.1},
       "encoding": {
         "x": {"field": "date", "type": "temporal", "scale": {"domain": [{"year": 1999, "month": 11, "date": 1}, {"year": 2000, "month": 5, "date": 1}]}, "axis": null},
         "y": {"field": "level", "type": "quantitative", "scale": {"domain": [6, 7], "nice": false, "zero": false},
               "axis": {"orient": "left", "values": [6, 7], "format": "d", "domain": false, "ticks": false, "title": null, "labelPadding": 8}},
         "detail": {"field": "run"}}},
      {"data": {"name": "notes"}, "transform": [{"filter": "datum.site == 'ikd'"}],
       "mark": {"type": "text", "fontSize": 21, "color": "#111"},
       "encoding": {
         "x": {"field": "date", "type": "temporal", "scale": {"domain": [{"year": 1999, "month": 11, "date": 1}, {"year": 2000, "month": 5, "date": 1}]}, "axis": null},
         "y": {"field": "level", "type": "quantitative", "scale": {"domain": [6, 7], "nice": false, "zero": false}, "axis": null},
         "text": {"field": "text"}}},
      {"data": {"name": "ikd_corrected"},
       "mark": {"type": "line", "color": "#555", "strokeWidth": 1.1},
       "encoding": {
         "x": {"field": "date", "type": "temporal", "scale": {"domain": [{"year": 1999, "month": 11, "date": 1}, {"year": 2000, "month": 5, "date": 1}]}, "axis": null},
         "y": {"field": "level", "type": "quantitative", "scale": {"domain": [6.1, 7.1], "nice": false, "zero": false},
               "axis": {"orient": "right", "values": [6.1, 7.1], "format": ".1f", "domain": false, "ticks": false, "title": null, "labelPadding": 10}},
         "detail": {"field": "run"}}},
      {"data": {"name": "month_starts"},
       "mark": {"type": "rule", "color": "#111", "strokeWidth": 1.5},
       "encoding": {
         "x": {"aggregate": "min", "field": "date", "type": "temporal", "scale": {"domain": [{"year": 1999, "month": 11, "date": 1}, {"year": 2000, "month": 5, "date": 1}]}, "axis": null},
         "x2": {"aggregate": "max", "field": "date"},
         "y": {"datum": 5.7264, "type": "quantitative", "scale": {"domain": [6, 7], "nice": false, "zero": false}, "axis": null}}},
      {"data": {"name": "month_starts"},
       "mark": {"type": "tick", "orient": "vertical", "color": "#111", "size": 10, "thickness": 1.5},
       "encoding": {
         "x": {"field": "date", "type": "temporal", "scale": {"domain": [{"year": 1999, "month": 11, "date": 1}, {"year": 2000, "month": 5, "date": 1}]}, "axis": null},
         "y": {"datum": 5.7264, "type": "quantitative", "scale": {"domain": [6, 7], "nice": false, "zero": false}, "axis": null}}},
      {"data": {"name": "weeks"},
       "mark": {"type": "tick", "orient": "vertical", "color": "#111", "size": 4, "thickness": 1.2},
       "encoding": {
         "x": {"field": "date", "type": "temporal", "scale": {"domain": [{"year": 1999, "month": 11, "date": 1}, {"year": 2000, "month": 5, "date": 1}]}, "axis": null},
         "y": {"datum": 5.7075, "type": "quantitative", "scale": {"domain": [6, 7], "nice": false, "zero": false}, "axis": null}}},
      {"data": {"name": "month_labels"},
       "mark": {"type": "text", "fontSize": 17, "color": "#111", "align": "center", "baseline": "middle"},
       "encoding": {
         "x": {"field": "date", "type": "temporal", "scale": {"domain": [{"year": 1999, "month": 11, "date": 1}, {"year": 2000, "month": 5, "date": 1}]}, "axis": null},
         "y": {"datum": 5.44, "type": "quantitative", "scale": {"domain": [6, 7], "nice": false, "zero": false}, "axis": null},
         "text": {"field": "month"}}},
      {"data": {"name": "year_labels"},
       "mark": {"type": "text", "fontSize": 17, "color": "#111", "align": "center", "baseline": "middle"},
       "encoding": {
         "x": {"field": "date", "type": "temporal", "scale": {"domain": [{"year": 1999, "month": 11, "date": 1}, {"year": 2000, "month": 5, "date": 1}]}, "axis": null},
         "y": {"datum": 5.85, "type": "quantitative", "scale": {"domain": [6, 7], "nice": false, "zero": false}, "axis": null},
         "text": {"field": "year"}}}
    ],
    "resolve": {"scale": {"y": "independent"}}
  }
]
}
